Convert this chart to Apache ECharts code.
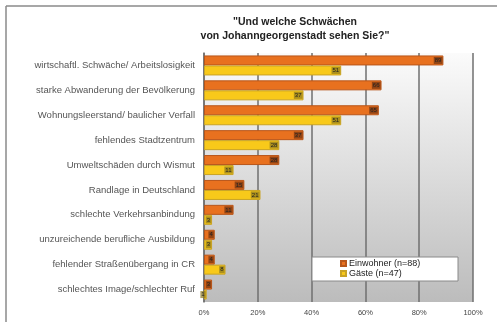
<!DOCTYPE html>
<html>
<head>
<meta charset="utf-8">
<script src="https://cdn.jsdelivr.net/npm/echarts@6/dist/echarts.min.js"></script>
<style>
  html, body { margin: 0; padding: 0; background: #fff; }
  #chart { width: 500px; height: 322px; }
</style>
</head>
<body>
<div id="chart"></div>
<script>
// Categories, top to bottom
var categories = [
  'wirtschaftl. Schwäche/ Arbeitslosigkeit',
  'starke Abwanderung der Bevölkerung',
  'Wohnungsleerstand/ baulicher Verfall',
  'fehlendes Stadtzentrum',
  'Umweltschäden durch Wismut',
  'Randlage in Deutschland',
  'schlechte Verkehrsanbindung',
  'unzureichende berufliche Ausbildung',
  'fehlender Straßenübergang in CR',
  'schlechtes Image/schlechter Ruf'
];
// Share of answers in percent
var einwohner = [89, 66, 65, 37, 28, 15, 11, 4, 4, 3];
var gaeste = [51, 37, 51, 28, 11, 21, 3, 3, 8, 1];
var seriesNames = ['Einwohner (n=88)', 'Gäste (n=47)'];
var titleText = '"Und welche Schwächen\nvon Johanngeorgenstadt sehen Sie?"';

var chart = echarts.init(document.getElementById('chart'));

function valueLabel(boxColor) {
  return {
    show: true,
    position: 'insideRight',
    distance: 1,
    fontSize: 6,
    color: '#222',
    backgroundColor: boxColor,
    padding: [1, 1, 0, 1],
    formatter: '{c}'
  };
}

chart.setOption({
  animation: false,
  title: {
    text: titleText,
    left: 290,
    top: 10,
    textAlign: 'center',
    textStyle: { fontFamily: 'Liberation Sans', fontSize: 10.5, fontWeight: 'bold', color: '#222', lineHeight: 14 }
  },
  legend: {
    data: seriesNames,
    orient: 'vertical',
    left: 340,
    top: 259,
    z: 10,
    itemWidth: 5,
    itemHeight: 5,
    itemGap: 1,
    icon: 'rect',
    padding: 0,
    textStyle: { fontFamily: 'Liberation Sans', fontSize: 9, color: '#222', padding: [0, 0, 0, -2] }
  },
  grid: {
    left: 204, right: 27, top: 53, bottom: 20,
    show: true,
    borderWidth: 0,
    backgroundColor: new echarts.graphic.LinearGradient(0, 0, 0, 1, [
      { offset: 0, color: '#fbfbfb' },
      { offset: 1, color: '#bcbcbc' }
    ])
  },
  xAxis: {
    type: 'value',
    min: 0, max: 100, interval: 20,
    axisLine: { show: false },
    axisTick: { show: false },
    axisLabel: { formatter: '{value}%', fontFamily: 'Liberation Sans', fontSize: 7.5, color: '#444', margin: 7 },
    splitLine: { show: true, lineStyle: { color: '#6f6f6f', width: 1.5 } }
  },
  yAxis: {
    type: 'category',
    data: categories,
    inverse: true,
    axisLine: { show: true, lineStyle: { color: '#6f6f6f', width: 1.5 } },
    axisTick: { show: false },
    axisLabel: { fontFamily: 'Liberation Sans', fontSize: 9.5, color: '#555', margin: 9 }
  },
  series: [
    {
      name: seriesNames[0],
      type: 'bar',
      data: einwohner,
      barWidth: 10,
      barGap: '0%',
      itemStyle: { color: '#e8711f', borderColor: '#b8561a', borderWidth: 1 },
      label: valueLabel('rgba(110,50,15,0.7)')
    },
    {
      name: seriesNames[1],
      type: 'bar',
      data: gaeste,
      barWidth: 10,
      itemStyle: { color: '#f8c91a', borderColor: '#c9a324', borderWidth: 1 },
      label: valueLabel('rgba(140,120,30,0.7)')
    }
  ],
  graphic: [
    { type: 'line', shape: { x1: 6, y1: 6, x2: 497, y2: 6 }, style: { stroke: '#8a8a8a', lineWidth: 1.5 } },
    { type: 'line', shape: { x1: 6, y1: 6, x2: 6, y2: 322 }, style: { stroke: '#8a8a8a', lineWidth: 1.5 } },
    { type: 'rect', z: 3, shape: { x: 312, y: 257, width: 146, height: 24 }, style: { fill: '#ffffff', stroke: '#8a8a8a', lineWidth: 1 } }
  ]
});
</script>
</body>
</html>
